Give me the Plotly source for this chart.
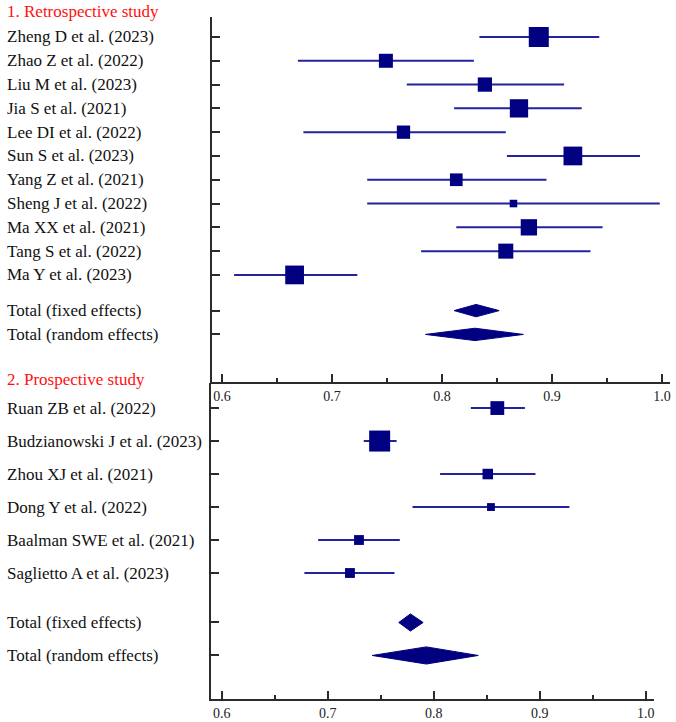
import plotly.graph_objects as go

#############################################
########## 1. Data
#############################################

# Retrospective studies
retro_studies = ["Zheng D et al. (2023)", "Zhao Z et al. (2022)", "Liu M et al. (2023)",
                 "Jia S et al. (2021)", "Lee DI et al. (2022)", "Sun S et al. (2023)",
                 "Yang Z et al. (2021)", "Sheng J et al. (2022)", "Ma XX et al. (2021)",
                 "Tang S et al. (2022)", "Ma Y et al. (2023)"]
retro_est = [0.888, 0.749, 0.839, 0.870, 0.765, 0.919, 0.813, 0.865, 0.879, 0.858, 0.666]
retro_lo = [0.834, 0.669, 0.768, 0.811, 0.674, 0.859, 0.732, 0.732, 0.813, 0.781, 0.611]
retro_hi = [0.943, 0.829, 0.911, 0.927, 0.858, 0.980, 0.895, 0.998, 0.946, 0.935, 0.723]
retro_weight = [14.7, 7.2, 7.5, 12.3, 6.5, 12.9, 5.9, 2.1, 9.8, 8.3, 12.9]
retro_fixed = [0.831, 0.811, 0.852]    # estimate, lower, upper
retro_random = [0.830, 0.785, 0.874]

# Prospective studies
pro_studies = ["Ruan ZB et al. (2022)", "Budzianowski J et al. (2023)", "Zhou XJ et al. (2021)",
               "Dong Y et al. (2022)", "Baalman SWE et al. (2021)", "Saglietto A et al. (2023)"]
pro_est = [0.860, 0.749, 0.851, 0.854, 0.7295, 0.721]
pro_lo = [0.835, 0.734, 0.806, 0.780, 0.691, 0.678]
pro_hi = [0.886, 0.765, 0.896, 0.928, 0.768, 0.763]
pro_weight = [19.1, 44.2, 11.1, 6.2, 9.7, 9.7]
pro_fixed = [0.778, 0.767, 0.790]
pro_random = [0.793, 0.742, 0.842]

total_labels = ["Total (fixed effects)", "Total (random effects)"]
x_tickvals = [0.6, 0.7, 0.8, 0.9, 1.0]
x_ticktext = ["0.6", "0.7", "0.8", "0.9", "1.0"]
x_minor = [0.65, 0.75, 0.85, 0.95]

#############################################
########## 2. Style
#############################################
W, H = 676, 722
NAVY = "#000080"
CI_COLOR = "#23239b"
AXIS_COLOR = "#2b2b2b"
FONT = "Liberation Serif, Times New Roman, serif"

fig = go.Figure()

def add_panel(studies, est, lo, hi, weight, fixed, random, xa, ya, max_size):
	n = len(studies)
	rows = list(range(n))
	total_rows = [n + 0.5, n + 1.5]

	# Confidence intervals
	xs, ys = [], []
	for r, a, b in zip(rows, lo, hi):
		xs += [a, b, None]
		ys += [r, r, None]
	fig.add_trace(go.Scatter(x=xs, y=ys, mode="lines", line=dict(color=CI_COLOR, width=2),
							 xaxis=xa, yaxis=ya, hoverinfo="skip", showlegend=False))

	# Weighted squares
	wmax = max(weight)
	sizes = [max_size * (w / wmax) ** 0.5 for w in weight]
	fig.add_trace(go.Scatter(x=est, y=rows, mode="markers", text=studies,
							 marker=dict(symbol="square", size=sizes, color=NAVY, opacity=1,
										 line=dict(width=0)),
							 xaxis=xa, yaxis=ya, showlegend=False))

	# Pooled diamonds
	for r, (m, a, b) in zip(total_rows, [fixed, random]):
		fig.add_trace(go.Scatter(x=[a, m, b, m, a], y=[r, r - 0.26, r, r + 0.26, r],
								 mode="lines", fill="toself", fillcolor=NAVY,
								 line=dict(color=NAVY, width=1), xaxis=xa, yaxis=ya,
								 hoverinfo="skip", showlegend=False))

	# Study labels
	for r, lab in zip(rows + total_rows, studies + total_labels):
		fig.add_annotation(text=lab, x=5 / W, xref="paper", xanchor="left", y=r, yref=ya,
						   showarrow=False, font=dict(family=FONT, size=17, color="#111"))
	return rows + total_rows

retro_rows = add_panel(retro_studies, retro_est, retro_lo, retro_hi, retro_weight,
					   retro_fixed, retro_random, "x", "y", 20)
pro_rows = add_panel(pro_studies, pro_est, pro_lo, pro_hi, pro_weight,
					 pro_fixed, pro_random, "x2", "y2", 21)

# Section headers
fig.add_annotation(text="1. Retrospective study", x=5 / W, xref="paper", xanchor="left",
				   y=1 - 12 / H, yref="paper", yanchor="middle", showarrow=False,
				   font=dict(family=FONT, size=17, color="#ff1010"))
fig.add_annotation(text="2. Prospective study", x=5 / W, xref="paper", xanchor="left",
				   y=1 - 379 / H, yref="paper", yanchor="middle", showarrow=False,
				   font=dict(family=FONT, size=17, color="#ff1010"))

xaxis_common = dict(tickvals=x_tickvals, ticktext=x_ticktext, ticks="inside", ticklen=8,
					tickwidth=2, tickcolor=AXIS_COLOR, showline=True, linecolor=AXIS_COLOR,
					linewidth=2, showgrid=False, zeroline=False, ticklabeloverflow="allow",
					tickfont=dict(family=FONT, size=14, color="#222"),
					minor=dict(tickvals=x_minor, ticks="inside", ticklen=4, tickwidth=1.5,
							   tickcolor=AXIS_COLOR, showgrid=False))
yaxis_common = dict(ticks="inside", ticklen=8, tickwidth=2, tickcolor=AXIS_COLOR,
					showline=True, linecolor=AXIS_COLOR, linewidth=2, showgrid=False,
					zeroline=False, showticklabels=False)

fig.update_layout(
	width=W, height=H, margin=dict(l=0, r=0, t=0, b=0),
	plot_bgcolor="white", paper_bgcolor="white", showlegend=False,
	xaxis=dict(domain=[212 / W, 670 / W], range=[0.5909, 1.0073], anchor="y", **xaxis_common),
	yaxis=dict(domain=[1 - 382 / H, 1 - 17 / H], range=[14.5, -0.84], anchor="x",
			   tickvals=retro_rows, **yaxis_common),
	xaxis2=dict(domain=[211 / W, 654 / W], range=[0.5899, 1.0078], anchor="y2", **xaxis_common),
	yaxis2=dict(domain=[1 - 699 / H, 1 - 383 / H], range=[8.82, -0.76], anchor="x2",
				tickvals=pro_rows, **yaxis_common),
)

# Page body has a default margin; drop it so the figure sits at the window corner
fig.write_html("out.html", config={"displayModeBar": False},
			   post_script="document.body.style.margin='0px';")
